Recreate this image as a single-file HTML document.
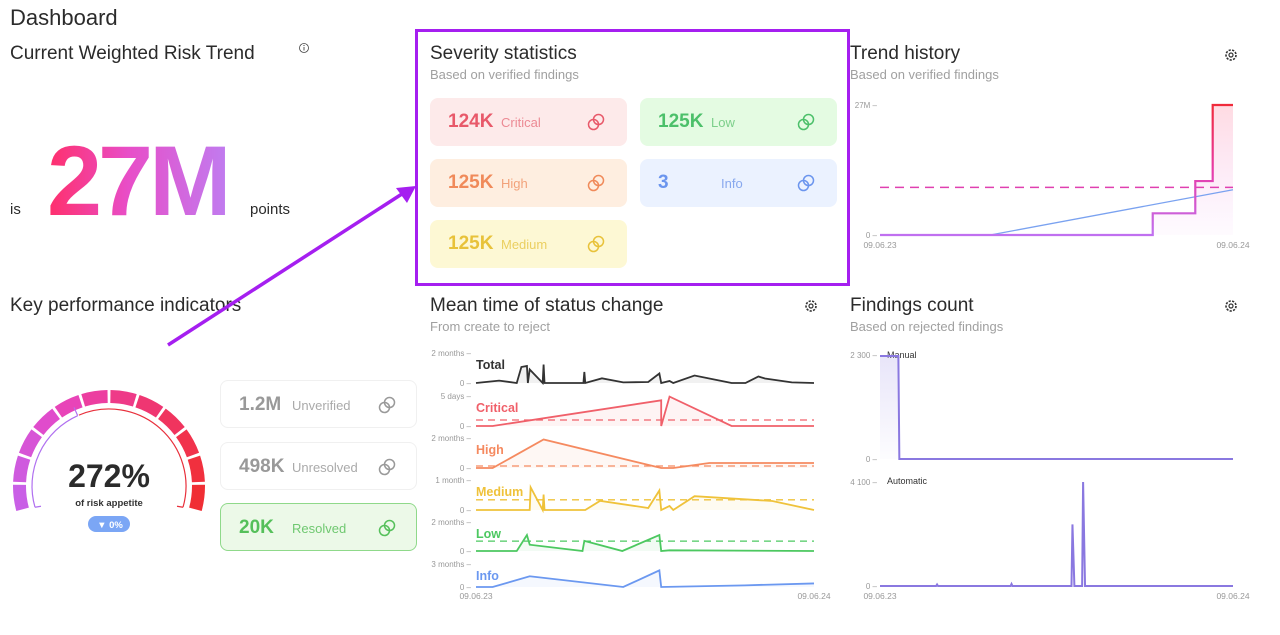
<!DOCTYPE html>
<html><head><meta charset="utf-8"><style>
*{box-sizing:border-box;margin:0;padding:0}
body{width:1280px;height:635px;background:#fff;font-family:"Liberation Sans",sans-serif;position:relative;overflow:hidden;color:#2b2b2b}
.a{position:absolute;white-space:nowrap}
.h1{font-size:22px;color:#2b2b2b}
.h2{font-size:19px;color:#2b2b2b}
.sub{font-size:13px;color:#a0a0a0}
.card{position:absolute;width:197px;height:48px;border-radius:8px}
.card .v{position:absolute;left:18px;top:13px;font-size:19px;font-weight:bold}
.card .l{position:absolute;left:71px;top:17px;font-size:13px}
.card svg{position:absolute;left:155px;top:13px}
</style></head><body>
<div class="a h1" style="left:10px;top:5px">Dashboard</div>
<div class="a h2" style="left:10px;top:43px">Current Weighted Risk Trend</div>
<svg class="a" style="left:298px;top:42px" width="12" height="12"><circle cx="6" cy="6" r="4.5" fill="none" stroke="#444" stroke-width="0.8"/><line x1="6" y1="5" x2="6" y2="8.5" stroke="#444" stroke-width="0.9"/><circle cx="6" cy="3.5" r="0.6" fill="#444"/></svg>
<div class="a" style="left:10px;top:201px;font-size:15px">is</div>
<div class="a" style="left:47px;top:124px;font-size:99px;font-weight:bold;letter-spacing:-4px;background:linear-gradient(90deg,#ff2f6b,#e84ec8 45%,#c07cf0);-webkit-background-clip:text;background-clip:text;color:transparent">27M</div>
<div class="a" style="left:250px;top:201px;font-size:15px">points</div>

<div class="a" style="left:415px;top:29px;width:435px;height:257px;border:3px solid #a51ff0"></div>
<div class="a h2" style="left:430px;top:43px">Severity statistics</div>
<div class="a sub" style="left:430px;top:67px">Based on verified findings</div>

<div class="a h2" style="left:850px;top:43px">Trend history</div>
<div class="a sub" style="left:850px;top:67px">Based on verified findings</div>
<div class="a h2" style="left:10px;top:295px">Key performance indicators</div>
<div class="a h2" style="left:430px;top:295px">Mean time of status change</div>
<div class="a sub" style="left:430px;top:319px">From create to reject</div>
<div class="a h2" style="left:850px;top:295px">Findings count</div>
<div class="a sub" style="left:850px;top:319px">Based on rejected findings</div>

<div id="cards"></div>
<svg id="s" class="a" style="left:0;top:0" width="1280" height="635"></svg>

<script>
const NS='http://www.w3.org/2000/svg';
const S=document.getElementById('s');
function mk(tag,at,parent){const e=document.createElementNS(NS,tag);for(const k in at)e.setAttribute(k,at[k]);(parent||S).appendChild(e);return e;}
function txt(x,y,t,at){const e=mk('text',Object.assign({x:x,y:y,'font-family':'Liberation Sans, sans-serif'},at));e.textContent=t;return e;}

// ---- cards ----
const cardLabels=['Critical','Low','High','Info','Medium','Unverified','Unresolved','Resolved'];
const cardValues=['124K','125K','125K','3','125K','1.2M','498K','20K'];
const cardPos=[[430,98],[640,98],[430,159],[640,159],[430,220],[220,380],[220,442],[220,503]];
const cardStyle=[['#fdeaea','#e8596a','#ec8a94'],['#e4fbe2','#4cc06a','#7ccf8a'],['#feeee0','#f08a5a','#f2a27a'],['#ebf2ff','#6b95ee','#88a8ee'],['#fdf8d4','#e8c23a','#ebcf60'],['#fff','#999','#aaa'],['#fff','#999','#aaa'],['#ecf9e8','#55c05a','#6fc870']];
const C=document.getElementById('cards');
cardLabels.forEach((l,i)=>{
  const d=document.createElement('div');d.className='card';
  
  
  const st=cardStyle[i];
  d.style.left=cardPos[i][0]+'px';d.style.top=cardPos[i][1]+'px';d.style.background=st[0];
  d.style.border= i>=5?(i==7?'1px solid #8fd98a':'1px solid #f0f0f0'):'none';
  const lx= l==='Info'?'81px':'71px';
  d.innerHTML='<span class="v" style="color:'+st[1]+'">'+cardValues[i]+'</span><span class="l" style="left:'+lx+';color:'+st[2]+'">'+l+'</span>'+
   '<svg width="22" height="22" viewBox="0 0 22 22" fill="none" stroke="'+st[1]+'" stroke-width="1.5"><circle cx="8.5" cy="13.5" r="5"/><circle cx="13.5" cy="8.5" r="5"/></svg>';
  C.appendChild(d);
});

// ---- gears ----
[[1231,55],[811,306],[1231,306]].forEach(p=>{
  const g=mk('g',{});
  
  
  mk('circle',{cx:p[0],cy:p[1],r:5,fill:'none',stroke:'#333','stroke-width':1.6,'stroke-dasharray':'2.2 1.3'},g);
  mk('circle',{cx:p[0],cy:p[1],r:2,fill:'none',stroke:'#333','stroke-width':1.2},g);
});

// ---- arrow ----
const ar=mk('line',{x1:168,y1:345,x2:405,y2:192,stroke:'#a51ff0','stroke-width':3.5});


mk('path',{d:'M416 186 L396 188 L407 203 Z',fill:'#a51ff0'});

// ---- gauge ----
const gaugeSegments=12;
const gaugePercent=272;
const gaugeColors=['#c95fe6','#cf5ade','#d754d6','#e04ccc','#e844b8','#ec3ea0','#ee3a88','#ef3672','#f0345e','#f1324c','#f1303e','#f02e34'];
const gcx=109,gcy=486;
function pol(r,a){const t=a*Math.PI/180;return [gcx+r*Math.cos(t),gcy-r*Math.sin(t)];}
function arcPath(r1,r2,a1,a2){const p1=pol(r2,a1),p2=pol(r2,a2),p3=pol(r1,a2),p4=pol(r1,a1);
 return `M${p1[0]} ${p1[1]} A${r2} ${r2} 0 0 1 ${p2[0]} ${p2[1]} L${p3[0]} ${p3[1]} A${r1} ${r1} 0 0 0 ${p4[0]} ${p4[1]}Z`;}
const A0=196,A1=-16;
const span=(A0-A1)/gaugeSegments;
for(let i=0;i<gaugeSegments;i++){
  const a1=A0-i*span-0.9,a2=A0-(i+1)*span+0.9;
  const seg=mk('path',{d:arcPath(83,96,a1,a2),fill:gaugeColors[i]});
  
  
}
function thin(a1,a2,col){const p1=pol(77,a1),p2=pol(77,a2);mk('path',{d:`M${p1[0]} ${p1[1]} A77 77 0 0 1 ${p2[0]} ${p2[1]}`,fill:'none',stroke:col,'stroke-width':1.2});}
thin(A0,114,'#b070f0');thin(113,A1,'#e8303c');
let q=pol(77,A0);mk('line',{x1:q[0],y1:q[1],x2:q[0]+6,y2:q[1]-1,stroke:'#b070f0','stroke-width':1.2});
q=pol(77,A1);mk('line',{x1:q[0],y1:q[1],x2:q[0]-6,y2:q[1]-1,stroke:'#e8303c','stroke-width':1.2});
q=pol(77,114);let q2=pol(86,114);mk('line',{x1:q[0],y1:q[1],x2:q2[0],y2:q2[1],stroke:'#b070f0','stroke-width':1.2});
const gv=txt(109,487,gaugePercent+'%',{'font-size':32,'font-weight':'bold','text-anchor':'middle',fill:'#2b2b2b'});

txt(109,506,'of risk appetite',{'font-size':9.5,'font-weight':'bold','text-anchor':'middle',fill:'#333'});
const bd=mk('rect',{x:88,y:516,width:42,height:16,rx:8,fill:'#7ba6f5'});

txt(110,528,'▼ 0%',{'font-size':9.5,'font-weight':'bold','text-anchor':'middle',fill:'#fff'});

// ---- Trend history ----
const trendDays=[0,282,282,326,326,344,344,365];
const trendValues=[0,0,4.5,4.5,11.2,11.2,27,27];
const trendAvg=9.9;
const trendLineDays=[0,114,365];
const trendLineValues=[0,0,9.4];
const trendMax=27;
const tx=d=>880+d/365*353, ty=v=>235-v/trendMax*130;
const defs=mk('defs',{});
let lg=mk('linearGradient',{id:'tg',x1:0,y1:1,x2:0,y2:0},defs);
mk('stop',{offset:0,'stop-color':'#c070f0'},lg);mk('stop',{offset:0.5,'stop-color':'#e83ca8'},lg);mk('stop',{offset:1,'stop-color':'#f02a3a'},lg);
lg=mk('linearGradient',{id:'tf',x1:0,y1:0,x2:0,y2:1},defs);
mk('stop',{offset:0,'stop-color':'#ff6f8a','stop-opacity':0.25},lg);mk('stop',{offset:1,'stop-color':'#e070f0','stop-opacity':0.03},lg);
lg=mk('linearGradient',{id:'ff',x1:0,y1:0,x2:0,y2:1},defs);
mk('stop',{offset:0,'stop-color':'#8c7de0','stop-opacity':0.2},lg);mk('stop',{offset:1,'stop-color':'#8c7de0','stop-opacity':0.02},lg);
txt(877,108,'27M –',{'font-size':8,fill:'#999','text-anchor':'end'});
txt(877,238,'0 –',{'font-size':8,fill:'#999','text-anchor':'end'});
txt(880,248,'09.06.23',{'font-size':8.5,fill:'#999','text-anchor':'middle'});
txt(1233,248,'09.06.24',{'font-size':8.5,fill:'#999','text-anchor':'middle'});
let pts=trendDays.map((d,i)=>tx(d)+','+ty(trendValues[i])).join(' L');
mk('path',{d:'M'+pts+' L'+tx(365)+','+ty(0)+' Z',fill:'url(#tf)'});
mk('line',{x1:tx(0),x2:tx(365),y1:ty(trendAvg),y2:ty(trendAvg),stroke:'#e040b0','stroke-width':1.5,'stroke-dasharray':'9 6'});
mk('path',{d:'M'+trendLineDays.map((d,i)=>tx(d)+','+ty(trendLineValues[i])).join(' L'),fill:'none',stroke:'#7aa2f0','stroke-width':1.3});
const tl=mk('path',{d:'M'+pts,fill:'none',stroke:'url(#tg)','stroke-width':2.2});


// ---- Mean time of status change ----
const mtNames=['Total','Critical','High','Medium','Low','Info'];
const mtColors=['#333333','#f0606a','#f58a60','#efc23a','#4cc860','#6b98f0'];
const mtTicks=['2 months','5 days','2 months','1 month','2 months','3 months'];
const mtMax=[60,5,60,30,60,90];
const totalDays=[0,25,44,49,55,56,58,72,73,74,116,117,118,136,159,186,198,200,209,213,236,276,291,305,312,341,365];
const totalVals=[0,4.7,0,32,34,0,27,0,37,0,0,22,0,9.3,1.3,2,19,0,4,0,15,0,0,13,9,1.3,0];
const criticalDays=[0,18,200,200,209,276,365];
const criticalVals=[0,0,4.28,0,4.9,0,0];
const highDays=[0,18,73,200,213,252,365];
const highVals=[0,0,57,0,0,10,10];
const mediumDays=[0,58,59,72,73,74,118,134,186,198,200,209,213,236,320,365];
const mediumVals=[0,0,22.7,0,15.5,0,0,9.2,2,19.5,0,4,0,13.8,9,0];
const lowDays=[0,44,55,58,115,117,158,198,200,209,365];
const lowVals=[0,0,33,13,0,21,0,33,0,1.4,0];
const infoDays=[0,18,58,159,198,200,290,365];
const infoVals=[0,0,42,0,65,0,6.5,14];
const mtAvg=[null,1.0,4,10.2,20.5,null];
const mtDays=[totalDays,criticalDays,highDays,mediumDays,lowDays,infoDays];
const mtVals=[totalVals,criticalVals,highVals,mediumVals,lowVals,infoVals];
const rowTop=[353,396,438,480,522,564], rowZero=[383,426,468,510,551,587];
const mx=d=>476+d/365*338;
mtNames.forEach((n,r)=>{
  const my=v=>rowZero[r]-v/mtMax[r]*(rowZero[r]-rowTop[r]);
  txt(471,rowTop[r]+3,mtTicks[r]+' –',{'font-size':8,fill:'#999','text-anchor':'end'});
  txt(471,rowZero[r]+3,'0 –',{'font-size':8,fill:'#999','text-anchor':'end'});
  const p=mtDays[r].map((d,i)=>mx(d)+','+my(mtVals[r][i])).join(' L');
  mk('path',{d:'M'+p+' L'+mx(365)+','+my(0)+' Z',fill:mtColors[r],'fill-opacity':0.07});
  if(mtAvg[r]!==null) mk('line',{x1:mx(0),x2:mx(365),y1:my(mtAvg[r]),y2:my(mtAvg[r]),stroke:mtColors[r],'stroke-width':1.3,'stroke-dasharray':'7 5'});
  const l=mk('path',{d:'M'+p,fill:'none',stroke:mtColors[r],'stroke-width':1.8});
  
  
  txt(476,rowTop[r]+16,n,{'font-size':12.5,'font-weight':'bold',fill:mtColors[r]});
});
txt(476,599,'09.06.23',{'font-size':8.5,fill:'#999','text-anchor':'middle'});
txt(814,599,'09.06.24',{'font-size':8.5,fill:'#999','text-anchor':'middle'});

// ---- Findings count ----
const manualDays=[0,19,20,365];
const manualVals=[2300,2300,0,0];
const autoDays=[0,58,59,60,135,136,137,198,199,201,209,210,212,365];
const autoVals=[0,0,60,0,0,80,0,0,2430,0,0,4100,0,0];
const manualMax=2300, autoMax=4100;
const fx=d=>880+d/365*353;
const fyM=v=>459-v/manualMax*103, fyA=v=>586-v/autoMax*104;
txt(877,358,'2 300 –',{'font-size':8,fill:'#999','text-anchor':'end'});
txt(877,462,'0 –',{'font-size':8,fill:'#999','text-anchor':'end'});
txt(877,485,'4 100 –',{'font-size':8,fill:'#999','text-anchor':'end'});
txt(877,589,'0 –',{'font-size':8,fill:'#999','text-anchor':'end'});
txt(887,358,'Manual',{'font-size':9,fill:'#333'});
txt(887,484,'Automatic',{'font-size':9,fill:'#333'});
let mp=manualDays.map((d,i)=>fx(d)+','+fyM(manualVals[i])).join(' L');
mk('path',{d:'M'+mp+' L'+fx(0)+','+fyM(0)+' Z',fill:'url(#ff)'});
let fl=mk('path',{d:'M'+mp,fill:'none',stroke:'#8a78e0','stroke-width':2});

fl=mk('path',{d:'M'+autoDays.map((d,i)=>fx(d)+','+fyA(autoVals[i])).join(' L'),fill:'none',stroke:'#8a78e0','stroke-width':2});

txt(880,599,'09.06.23',{'font-size':8.5,fill:'#999','text-anchor':'middle'});
txt(1233,599,'09.06.24',{'font-size':8.5,fill:'#999','text-anchor':'middle'});
</script>
</body></html>
